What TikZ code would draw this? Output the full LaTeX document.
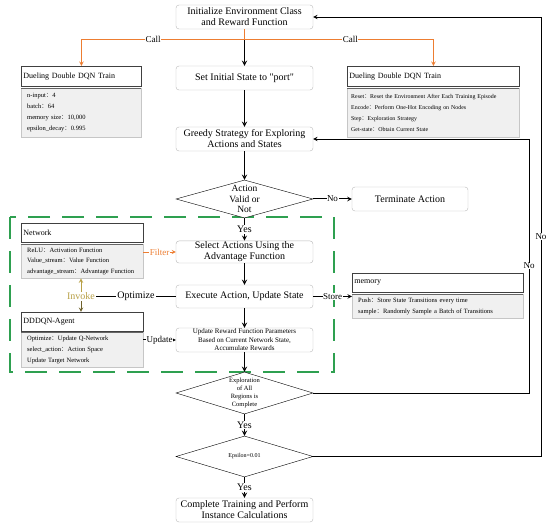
\documentclass[tikz,border=0pt]{standalone}
\usepackage{fontspec}
\setmainfont{Liberation Serif}
\newfontfamily\cjk{Noto Sans CJK SC}
\usepackage{xcolor}
\usepackage{tikz}
\usetikzlibrary{shapes, arrows, positioning, calc}

\definecolor{laranja}{RGB}{237,125,49}
\definecolor{verde}{RGB}{46,160,80}
\definecolor{oliva}{RGB}{184,160,70}
\newcommand{\doisp}{{\cjk ：}}

\begin{document}
\begin{tikzpicture}[
        x=1pt, y=-1pt, % Escala em pontos, eixo Y para baixo
        etapa/.style={rectangle, draw=gray!55, rounded corners=3pt, fill=white, minimum width=137pt, minimum height=23pt, align=center, inner sep=1pt, font=\fontsize{10}{11}\selectfont},
        decisao/.style={diamond, draw, fill=white, minimum width=137pt, inner sep=0pt},
        cabec/.style={rectangle, draw=black!75, line width=0.9pt, fill=white, anchor=north west, minimum height=20pt, align=left, inner sep=2pt, font=\fontsize{8}{9}\selectfont},
        corpo/.style={rectangle, draw=gray!45, fill=gray!12, anchor=north west, align=left, inner xsep=6pt, inner ysep=0pt, font=\fontsize{6.5}{11}\selectfont},
        seta/.style={->, >=stealth, line width=1.3pt},
        volta/.style={->, >=stealth, line width=0.9pt},
        chamada/.style={->, >=stealth, line width=1pt, color=laranja},
        rotulo/.style={fill=white, inner sep=1pt, font=\fontsize{10}{11}\selectfont},
        rotulop/.style={fill=white, inner sep=0.5pt, font=\fontsize{9}{10}\selectfont}
        ]
        \useasboundingbox (0,0) rectangle (550,526);

        % Moldura tracejada da rede
        \draw[verde, line width=1.4pt, dash pattern=on 22pt off 12pt] (10,217) rectangle (334,372);

        % Coluna principal
        \node[etapa, minimum height=24pt] (init) at (244.5,17) {Initialize Environment Class\\and Reward Function};
        \node[etapa, minimum height=24pt] (inicial) at (244.5,78) {Set Initial State to \textquotedbl port\textquotedbl};
        \node[etapa, minimum height=24pt] (guloso) at (244.5,139) {Greedy Strategy for Exploring\\Actions and States};
        \node[decisao, minimum height=38pt, label={[align=center, font=\fontsize{9.5}{10.5}\selectfont]center:Action\\Valid or\\Not}] (valida) at (244.5,199) {};
        \node[etapa, minimum width=116pt, minimum height=24pt] (termina) at (410,199) {Terminate Action};
        \node[etapa, minimum height=22pt] (seleciona) at (244.5,252) {Select Actions Using the\\Advantage Function};
        \node[etapa] (executa) at (244.5,296.5) {Execute Action, Update State};
        \node[etapa, minimum height=24pt, font=\fontsize{7}{8.5}\selectfont] (atualiza) at (244.5,340) {Update Reward Function Parameters\\Based on Current Network State,\\Accumulate Rewards};
        \node[decisao, minimum height=42pt, label={[align=center, font=\fontsize{6.5}{8}\selectfont]center:Exploration\\of All\\Regions is\\Complete}] (explora) at (244.5,393) {};
        \node[decisao, minimum height=41pt, label={[font=\fontsize{6}{7}\selectfont]center:Epsilon=0.01}] (epsilon) at (244.5,456.5) {};
        \node[etapa, minimum height=24pt] (fim) at (244.5,510) {Complete Training and Perform\\Instance Calculations};

        % Caixas de informacao
        \node[cabec, text width=116pt] (trein) at (21,66) {Dueling Double DQN Train};
        \node[corpo, text width=108pt, minimum height=49pt] (treinc) at (21,88) {n-input\doisp 4\\batch\doisp 64\\memory size\doisp 10,000\\epsilon\_decay\doisp 0.995};
        \node[cabec, text width=168pt] (ambiente) at (347,66) {Dueling Double DQN Train};
        \node[corpo, text width=164pt, inner xsep=4pt, minimum height=49pt, font=\fontsize{5.9}{11}\selectfont] (ambientec) at (347,88) {Reset\doisp Reset the Environment After Each Training Episode\\Encode\doisp Perform One-Hot Encoding on Nodes\\Step\doisp Exploration Strategy\\Get-state\doisp Obtain Current State};
        \node[cabec, text width=118pt, minimum height=19pt] (rede) at (21,223) {Network};
        \node[corpo, text width=110pt, minimum height=34pt, font=\fontsize{6.5}{10.5}\selectfont] (redec) at (21,244) {ReLU\doisp Activation Function\\Value\_stream\doisp Value Function\\advantage\_stream\doisp Advantage Function};
        \node[cabec, text width=118pt, minimum height=19pt] (agente) at (21,312) {DDDQN-Agent};
        \node[corpo, text width=110pt, minimum height=35pt, font=\fontsize{6.5}{11}\selectfont] (agentec) at (21,332) {Optimize\doisp Update Q-Network\\select\_action\doisp Action Space\\Update Target Network};
        \node[cabec, text width=167pt, minimum height=19pt] (mem) at (352,273) {memory};
        \node[corpo, text width=159pt, minimum height=24pt] (memc) at (352,294) {Push\doisp Store State Transitions every time\\sample\doisp Randomly Sample a Batch of Transitions};
        \foreach \c in {treinc, ambientec, redec, agentec, memc}
            \draw[black!60, line width=0.8pt] (\c.north west) -- (\c.north east);

        \node[rotulo, text=oliva] (invoca) at (81,296.5) {Invoke};

        % Fluxo principal
        \draw[seta] (init) -- (inicial);
        \draw[seta] (inicial) -- (guloso);
        \draw[seta] (guloso) -- (valida);
        \draw[seta] (valida) -- node[rotulo]{Yes} (seleciona);
        \draw[seta] (seleciona) -- (executa);
        \draw[seta] (executa) -- (atualiza);
        \draw[seta] (atualiza) -- (explora);
        \draw[seta] (explora) -- node[rotulo]{Yes} (epsilon);
        \draw[seta] (epsilon) -- node[rotulo]{Yes} (fim);
        \draw[seta, line width=1pt] (valida.east) -- node[rotulop]{No} (termina.west);

        % Chamadas laterais
        \coordinate (divide) at (244.5,39.5);
        \draw[chamada, -] (init.south) -- (divide);
        \draw[chamada] (divide) -| node[rotulop, pos=0.28, text=black]{Call} (trein.north);
        \draw[chamada] (divide) -| node[rotulop, pos=0.28, text=black]{Call} (ambiente.north);

        % Ligacoes da rede
        \draw[chamada, line width=0.8pt] (redec.east |- seleciona.west) -- node[rotulop, text=laranja]{Filter} (seleciona.west);
        \draw[line width=1.3pt] (executa.west) -- node[rotulo]{Optimize} (invoca.east);
        \draw[->, >=stealth, line width=1pt, oliva] (invoca.north) -- (invoca.north |- redec.south);
        \draw[->, >=stealth, line width=1pt, oliva!60!black] (invoca.south) -- (invoca.south |- agente.north);
        \draw[seta, line width=1pt] (agentec.east |- atualiza.west) -- node[rotulop]{Update} (atualiza.west);
        \draw[seta, line width=1pt] (executa.east) -- node[rotulop]{Store} (executa.east -| memc.west);

        % Retornos
        \coordinate (r1) at (529,393);
        \coordinate (r2) at (541,456.5);
        \draw[volta] (explora.east) -- (r1) |- node[rotulop, pos=0.25]{No} (guloso.east);
        \draw[volta] (epsilon.east) -- (r2) |- node[rotulop, pos=0.25]{No} (init.east);

    \end{tikzpicture}
\end{document}
